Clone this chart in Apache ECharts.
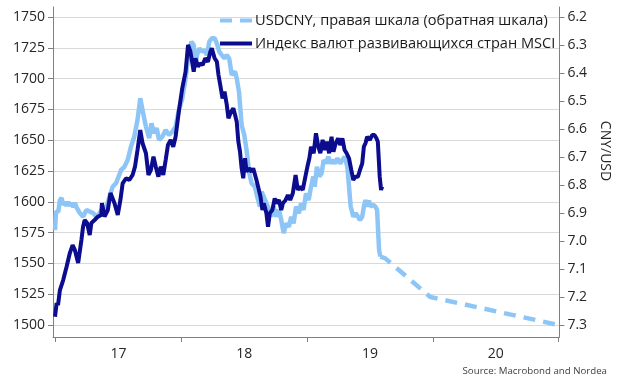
<!DOCTYPE html>
<html><head><meta charset="utf-8">
<script src="https://cdn.jsdelivr.net/npm/echarts@6/dist/echarts.min.js"></script>
<style>html,body{margin:0;padding:0;background:#fff}#c{width:620px;height:382px}</style>
</head><body><div id="c"></div>
<script>
// Series names
const nameCny = 'USDCNY, правая шкала (обратная шкала)';
const nameMsci = 'Индекс валют развивающихся стран MSCI';

// MSCI EM currency index (left axis) – time in decimal years
const msciT = [2016.996,2017.009,2017.020,2017.035,2017.061,2017.088,2017.114,2017.136,2017.154,2017.180,2017.206,2017.219,2017.232,2017.251,2017.272,2017.285,2017.311,2017.337,2017.364,2017.369,2017.390,2017.416,2017.437,2017.469,2017.495,2017.516,2017.534,2017.561,2017.587,2017.613,2017.632,2017.652,2017.674,2017.692,2017.719,2017.739,2017.758,2017.779,2017.797,2017.818,2017.837,2017.857,2017.876,2017.894,2017.916,2017.936,2017.955,2017.981,2018.007,2018.034,2018.054,2018.073,2018.086,2018.099,2018.113,2018.133,2018.152,2018.170,2018.191,2018.212,2018.231,2018.243,2018.265,2018.283,2018.296,2018.310,2018.328,2018.344,2018.362,2018.375,2018.396,2018.414,2018.428,2018.441,2018.454,2018.467,2018.480,2018.493,2018.507,2018.519,2018.538,2018.559,2018.572,2018.585,2018.598,2018.611,2018.630,2018.645,2018.656,2018.677,2018.690,2018.704,2018.724,2018.743,2018.756,2018.777,2018.795,2018.808,2018.830,2018.848,2018.866,2018.887,2018.909,2018.927,2018.945,2018.966,2018.987,2019.006,2019.019,2019.032,2019.053,2019.071,2019.090,2019.106,2019.124,2019.142,2019.158,2019.176,2019.195,2019.210,2019.228,2019.247,2019.263,2019.281,2019.299,2019.315,2019.334,2019.352,2019.368,2019.386,2019.405,2019.421,2019.439,2019.452,2019.465,2019.478,2019.500,2019.518,2019.536,2019.552,2019.563,2019.571,2019.578,2019.589,2019.597];
const msciV = [1506.7,1517.9,1516.2,1528.4,1536.5,1547.3,1558.4,1564.9,1560.9,1550.3,1569.0,1579.8,1585.2,1582.8,1573.0,1582.8,1585.2,1587.9,1589.3,1599.0,1587.9,1593.3,1607.1,1598.8,1589.3,1601.5,1615.0,1619.1,1617.7,1621.8,1628.5,1642.0,1658.3,1647.5,1639.4,1621.8,1625.8,1636.6,1628.5,1620.4,1628.5,1621.8,1633.9,1646.1,1650.2,1644.7,1652.8,1673.7,1691.6,1705.4,1727.3,1721.8,1713.7,1705.6,1716.5,1709.7,1712.4,1711.0,1716.5,1713.7,1721.8,1724.6,1716.5,1713.7,1702.9,1694.8,1684.0,1689.4,1678.6,1667.8,1673.1,1675.9,1670.5,1665.0,1648.8,1640.7,1627.2,1619.1,1635.3,1624.4,1627.2,1624.4,1627.2,1625.8,1617.7,1612.3,1604.1,1593.3,1598.8,1590.7,1579.8,1590.7,1593.3,1602.8,1598.8,1601.5,1593.3,1598.8,1601.5,1605.5,1601.5,1606.9,1621.8,1609.6,1612.3,1609.6,1620.4,1629.9,1635.6,1644.7,1639.4,1655.6,1644.7,1639.4,1650.2,1642.0,1648.8,1639.4,1652.8,1640.7,1647.5,1651.5,1646.1,1651.5,1642.0,1639.4,1635.3,1625.8,1617.7,1620.4,1620.4,1625.8,1631.2,1644.7,1647.5,1652.8,1650.2,1654.2,1654.2,1651.5,1648.8,1633.9,1620.4,1609.6,1612.3];

// USDCNY history (right axis, inverted)
const cnyT = [2016.996,2017.004,2017.022,2017.035,2017.049,2017.059,2017.075,2017.087,2017.101,2017.114,2017.128,2017.142,2017.154,2017.169,2017.193,2017.219,2017.246,2017.272,2017.298,2017.325,2017.351,2017.377,2017.403,2017.429,2017.455,2017.482,2017.495,2017.522,2017.548,2017.574,2017.600,2017.626,2017.652,2017.674,2017.692,2017.719,2017.745,2017.763,2017.784,2017.805,2017.823,2017.849,2017.876,2017.902,2017.928,2017.955,2017.981,2018.007,2018.034,2018.060,2018.081,2018.099,2018.113,2018.125,2018.144,2018.165,2018.186,2018.204,2018.223,2018.243,2018.265,2018.283,2018.302,2018.322,2018.344,2018.362,2018.381,2018.401,2018.428,2018.441,2018.459,2018.480,2018.501,2018.519,2018.541,2018.559,2018.585,2018.604,2018.625,2018.638,2018.656,2018.677,2018.698,2018.716,2018.735,2018.756,2018.777,2018.795,2018.814,2018.834,2018.856,2018.874,2018.893,2018.913,2018.935,2018.953,2018.972,2018.992,2019.013,2019.032,2019.050,2019.061,2019.079,2019.098,2019.116,2019.132,2019.150,2019.169,2019.184,2019.203,2019.221,2019.242,2019.263,2019.281,2019.299,2019.321,2019.334,2019.347,2019.368,2019.386,2019.405,2019.421,2019.439,2019.452,2019.465,2019.478,2019.492,2019.504,2019.525,2019.543,2019.557,2019.565,2019.573,2019.583];
const cnyV = [6.961,6.896,6.895,6.854,6.846,6.871,6.861,6.875,6.860,6.875,6.864,6.879,6.864,6.882,6.900,6.913,6.889,6.895,6.900,6.913,6.900,6.882,6.882,6.842,6.806,6.793,6.794,6.746,6.735,6.711,6.663,6.628,6.568,6.490,6.532,6.592,6.633,6.580,6.615,6.597,6.639,6.628,6.604,6.621,6.610,6.592,6.532,6.493,6.421,6.325,6.288,6.300,6.371,6.336,6.312,6.324,6.318,6.336,6.288,6.276,6.276,6.294,6.324,6.336,6.348,6.336,6.348,6.407,6.395,6.419,6.467,6.586,6.621,6.675,6.758,6.794,6.806,6.842,6.877,6.824,6.842,6.865,6.889,6.913,6.877,6.913,6.889,6.925,6.972,6.937,6.949,6.913,6.937,6.877,6.901,6.865,6.889,6.830,6.854,6.806,6.770,6.806,6.735,6.770,6.758,6.711,6.723,6.699,6.723,6.711,6.723,6.705,6.723,6.711,6.699,6.735,6.806,6.877,6.913,6.901,6.913,6.925,6.913,6.877,6.854,6.877,6.856,6.877,6.871,6.877,6.889,6.961,7.032,7.056];

// USDCNY forecast (dashed)
const fcT = [2019.583,2019.622,2019.980,2021.000];
const fcV = [7.056,7.062,7.200,7.300];

// Ticks and labels
const leftTicks = [1500,1525,1550,1575,1600,1625,1650,1675,1700,1725,1750];
const rightTicks = [6.2,6.3,6.4,6.5,6.6,6.7,6.8,6.9,7.0,7.1,7.2,7.3];
const yearTicks = [2017,2018,2019,2020,2021];
const yearLabelPos = [2017.5,2018.5,2019.5,2020.5];
const yearLabels = ['17','18','19','20'];
const sourceText = 'Source: Macrobond and Nordea';

const zip = (a, b) => a.map((t, i) => [t, b[i]]);
const FONT = 'Open Sans';
const LIGHT = '#8dc6f6';
const DARK = '#0c0c8e';
const AXIS = '#808080';

const chart = echarts.init(document.getElementById('c'), null, {renderer: 'canvas'});
chart.setOption({
  animation: false,
  textStyle: {fontFamily: FONT},
  title: {
    text: sourceText, right: 8, bottom: 1,
    textStyle: {fontSize: 9.7, fontWeight: 'normal', color: '#404040', fontFamily: FONT}
  },
  legend: {
    data: [nameCny, nameMsci],
    orient: 'vertical', left: 218, top: 13, padding: 0,
    itemWidth: 32, itemHeight: 14, itemGap: 8,
    itemStyle: {opacity: 0},
    lineStyle: {width: 4},
    textStyle: {fontSize: 14.6, color: '#1a1a1a', fontFamily: FONT, padding: [0,0,0,-2]}
  },
  grid: {left: 53, right: 56, top: 7, bottom: 45},
  xAxis: {
    type: 'value', min: 2016.98, max: 2021.007,
    axisLine: {show: true, lineStyle: {color: AXIS}},
    axisTick: {show: true, customValues: yearTicks, length: 5, lineStyle: {color: AXIS}},
    axisLabel: {customValues: yearLabelPos, fontSize: 14, color: '#262626', margin: 10,
      formatter: v => yearLabels[yearLabelPos.indexOf(v)] || ''},
    splitLine: {show: false}
  },
  yAxis: [{
    type: 'value', position: 'left', min: 1490.26, max: 1758.1,
    axisLine: {show: true, lineStyle: {color: AXIS}},
    axisTick: {show: true, customValues: leftTicks, length: 5, lineStyle: {color: AXIS}},
    axisLabel: {customValues: leftTicks, fontSize: 14, color: '#262626', margin: 8,
      formatter: v => String(Math.round(v))},
    splitLine: {show: true, lineStyle: {color: '#d9d9d9', width: 1}}
  }, {
    type: 'value', position: 'right', inverse: true, min: 6.1643, max: 7.3429,
    axisLine: {show: true, lineStyle: {color: AXIS}},
    axisTick: {show: true, customValues: rightTicks, length: 5, lineStyle: {color: AXIS}},
    axisLabel: {customValues: rightTicks, fontSize: 14, color: '#262626', margin: 8,
      formatter: v => v.toFixed(1)},
    splitLine: {show: false},
    name: 'CNY/USD', nameLocation: 'middle', nameRotate: -90, nameGap: 38,
    nameTextStyle: {fontSize: 14, color: '#262626', fontFamily: FONT, padding: [0, 42, 0, 0]}
  }],
  series: [{
    name: nameCny, type: 'line', yAxisIndex: 1, data: zip(fcT, fcV),
    symbol: 'none', lineStyle: {color: LIGHT, width: 4.5, type: [12, 8]}, itemStyle: {color: LIGHT}
  }, {
    name: nameCny, type: 'line', yAxisIndex: 1, data: zip(cnyT, cnyV),
    symbol: 'none', lineStyle: {color: LIGHT, width: 4.5}, itemStyle: {color: LIGHT}
  }, {
    name: nameMsci, type: 'line', yAxisIndex: 0, data: zip(msciT, msciV),
    symbol: 'none', lineStyle: {color: DARK, width: 4}, itemStyle: {color: DARK}
  }]
});
</script></body></html>
